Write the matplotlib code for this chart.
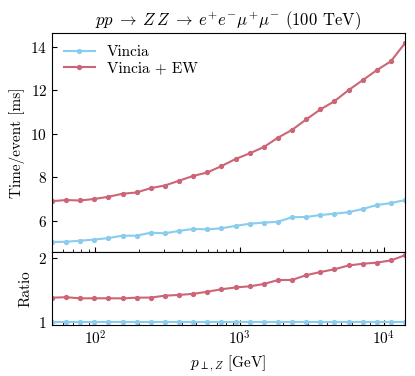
import matplotlib
matplotlib.use("Agg")
import matplotlib.pyplot as plt
import numpy as np

plt.rcParams["font.family"] = "serif"
plt.rcParams["font.serif"] = ["cmr10"]
plt.rcParams["mathtext.fontset"] = "cm"
plt.rcParams["axes.formatter.use_mathtext"] = True
plt.rcParams["axes.unicode_minus"] = False

###
# Data (time per event in ms vs pT of Z)
###
pt = [50, 62.6, 78.5, 98.3, 123.2, 154.3, 193.3, 242.2, 303.4, 380.1,
      476.2, 596.6, 747.4, 936.3, 1173, 1470, 1841, 2307, 2890, 3620,
      4536, 5682, 7119, 8918, 11173, 14000]

t_vincia = [5.02, 5.03, 5.08, 5.13, 5.20, 5.31, 5.31, 5.45, 5.42, 5.53,
            5.62, 5.60, 5.65, 5.76, 5.86, 5.91, 5.95, 6.16, 6.17, 6.26,
            6.32, 6.39, 6.54, 6.72, 6.81, 6.95]

t_vincia_ew = [6.90, 6.95, 6.93, 7.00, 7.10, 7.24, 7.30, 7.50, 7.62, 7.84,
               8.06, 8.22, 8.51, 8.84, 9.10, 9.39, 9.82, 10.18, 10.66, 11.12,
               11.50, 12.01, 12.47, 12.93, 13.34, 14.18]

labels = ["Vincia", "Vincia + EW"]
colors = ["#88CCEE", "#CC6677"]

pt = np.array(pt)
series = [np.array(t_vincia), np.array(t_vincia_ew)]
ref = series[0]

fig, (ax, rax) = plt.subplots(2, 1, sharex=True, figsize=(4.15, 3.76), dpi=100,
                              gridspec_kw={"height_ratios": [3, 1], "hspace": 0})
fig.subplots_adjust(left=0.125, right=0.976, top=0.912, bottom=0.136)

for vals, lab, col in zip(series, labels, colors):
    ax.plot(pt, vals, color=col, marker="o", ms=2.8, lw=1.5, label=lab)
    rax.plot(pt, vals / ref, color=col, marker="o", ms=2.8, lw=1.5)

ax.set_xscale("log")
ax.set_xlim(pt[0], pt[-1])
ax.set_ylabel("Time/event [ms]", fontsize=11)
ax.set_title(r"$pp \;\to\; Z\,Z \;\to\; e^{+}e^{-}\mu^{+}\mu^{-}$ (100 TeV)", fontsize=12)
ax.legend(loc="upper left", frameon=False, fontsize=11, handlelength=2.0,
          borderaxespad=0.4, labelspacing=0.15)
ax.set_yticks([6, 8, 10, 12, 14])

rax.set_yticks([1, 2])
rax.set_ylabel("Ratio", fontsize=11)
rax.set_xlabel(r"$p_{\perp,Z}$ [GeV]", fontsize=11)

for a in (ax, rax):
    a.tick_params(which="both", direction="in", labelsize=11)
    a.minorticks_on()
    a.yaxis.set_minor_locator(matplotlib.ticker.NullLocator())

fig.savefig("out.png", dpi=100)
